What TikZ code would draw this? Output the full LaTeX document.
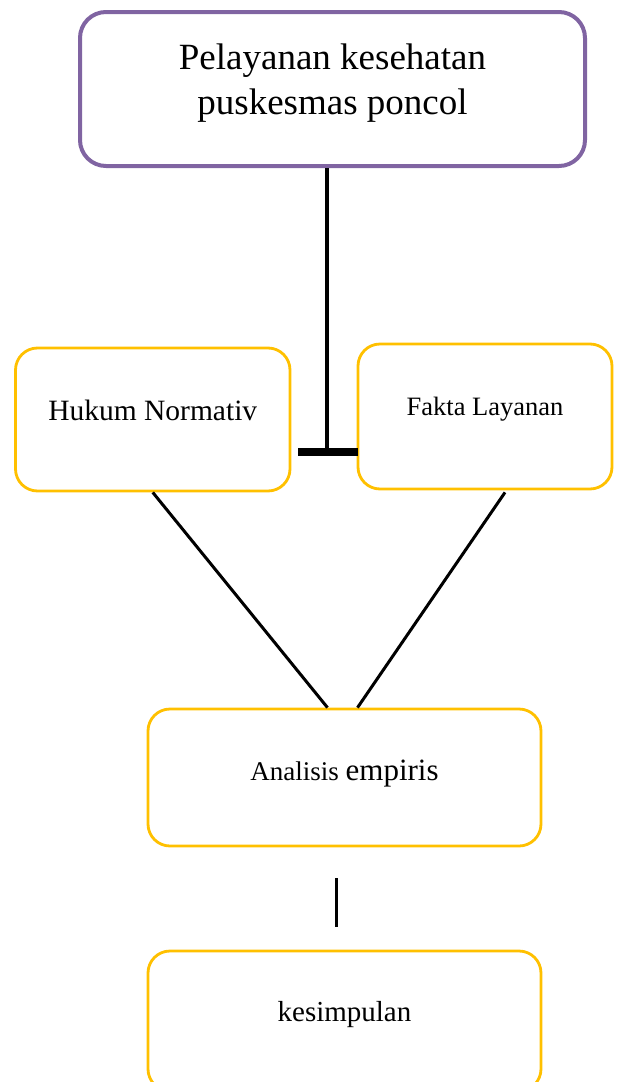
\documentclass[tikz,border=0pt]{standalone}
\usepackage{fontspec}
\setmainfont{Liberation Serif}
\usetikzlibrary{calc}
\definecolor{ungu}{HTML}{8064A2}
\definecolor{kuning}{HTML}{FFC000}
\newcommand{\angkat}[2]{\raisebox{#1}[0pt][0pt]{#2}}
\tikzset{
  kotak/.style={draw=kuning, line width=2.8pt, rounded corners=22pt, inner sep=0pt, align=center},
  garis/.style={line width=3pt}
}
\begin{document}
\begin{tikzpicture}[x=1pt,y=-1pt]
      \useasboundingbox (0,0) rectangle (616,1082);
      \node[draw=ungu, line width=4pt, rounded corners=26pt, inner sep=0pt,
            minimum width=505pt, minimum height=154pt,
            font=\fontsize{37}{45}\selectfont] (pelayanan) at (332.5,89)
            {\angkat{-25pt}{\begin{tabular}[b]{@{}c@{}}Pelayanan kesehatan\\puskesmas poncol\end{tabular}}};
      \node[kotak, minimum width=274.5pt, minimum height=143pt,
            font=\fontsize{29.5}{34}\selectfont] (hukum) at (152.75,419.5)
            {\angkat{-0.5pt}{Hukum Normativ}};
      \node[kotak, minimum width=254pt, minimum height=145pt,
            font=\fontsize{26.5}{32}\selectfont] (fakta) at (485,416.5)
            {\angkat{0.8pt}{Fakta Layanan}};
      \node[kotak, minimum width=393pt, minimum height=137pt,
            font=\fontsize{27}{32}\selectfont] (analisis) at (344.5,777.5)
            {\angkat{-3.2pt}{Analisis {\fontsize{31}{36}\selectfont empiris}}};
      \node[kotak, minimum width=393pt, minimum height=140pt,
            font=\fontsize{29}{34}\selectfont] (kesimpulan) at (344.5,1021)
            {\angkat{0pt}{kesimpulan}};
      % sambungan
      \coordinate (tengah) at (327,452);
      \coordinate (kiriT) at (298,452);
      \coordinate (kananT) at (358,452);
      \begin{scope}[garis]
        \draw[line width=4pt] (pelayanan.south -| tengah) to (tengah);
        \draw[line width=8pt] (kiriT) to (kananT);
        \draw (hukum.south) to ($(analisis.north)+(-17,0)$);
        \draw ($(fakta.south)+(20,2)$) to ($(analisis.north)+(13,0)$);
        \draw ($(analisis.south)+(-8.5,31)$) to ($(kesimpulan.north)+(-8.5,-23)$);
      \end{scope}
    \end{tikzpicture}
\end{document}
